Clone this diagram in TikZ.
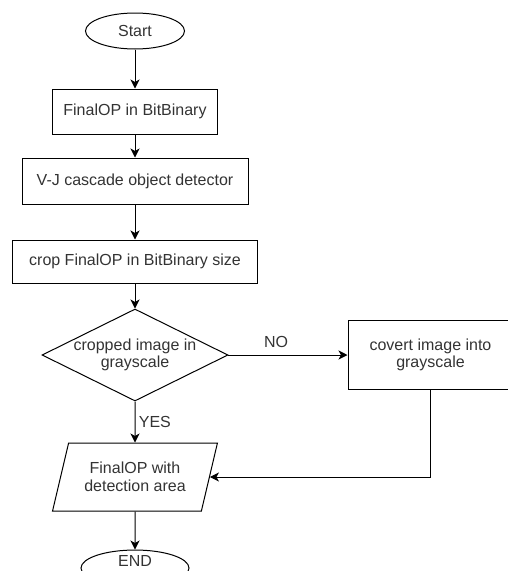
\documentclass[tikz,border=0pt]{standalone}
\usepackage{fontspec}
\setmainfont{Liberation Sans}
\usetikzlibrary{calc}
\usetikzlibrary{positioning}
\usetikzlibrary{shapes.geometric}
\usetikzlibrary{arrows.meta}
\definecolor{txtgray}{HTML}{333333}
\tikzstyle{termnode} = [draw, ellipse, minimum width=99pt, minimum height=36pt, text=txtgray]
\tikzstyle{procnode} = [draw, rectangle, minimum height=45pt, text=txtgray, align=center]
\tikzstyle{decnode} = [draw, diamond, aspect=2, minimum width=186pt, minimum height=92pt, inner sep=-3pt, text=txtgray, align=center]
\tikzstyle{ionode} = [draw, trapezium, trapezium left angle=70, trapezium right angle=110, trapezium stretches=true, minimum width=165pt, minimum height=68pt, text=txtgray, align=center]
\tikzstyle{lbl} = [text=txtgray]

\begin{document}
\begin{tikzpicture}[x=1pt, y=1pt, line width=1pt, >={Stealth[length=9pt, width=9pt, inset=2.5pt]}, font=\fontsize{16}{17.5}\selectfont]
  \useasboundingbox (0,0) rectangle (508,-571);
  \node[termnode] (start) at (135,-31) {Start};
  \node[procnode, minimum width=165pt, below=39pt of start] (bitbin) {FinalOP in BitBinary};
  \node[procnode, minimum width=226pt, minimum height=46pt, below=23pt of bitbin] (vj) {V-J cascade object detector};
  \node[procnode, minimum width=245pt, minimum height=43pt, below=35pt of vj] (crop) {crop FinalOP in BitBinary size};
  \node[decnode, below=25pt of crop] (gray) {cropped image in\\grayscale};
  \node[procnode, minimum width=165pt, minimum height=69pt, right=119pt of gray] (conv) {covert image into\\grayscale};
  \node[ionode, below=41pt of gray] (out) {FinalOP with\\detection area};
  \node[termnode, minimum width=108pt, inner sep=0pt, text height=11.5pt, text depth=14pt, below=38pt of out] (end) {END};

  \draw[->] (start) -- (bitbin);
  \draw[->] (bitbin) -- (vj);
  \draw[->] (vj) -- (crop);
  \draw[->] (crop) -- (gray);
  \draw[->] (gray) -- node[lbl, above=4pt, pos=0.4] (no) {NO} (conv);
  \draw[->] (gray) -- node[lbl, right, pos=0.5] (yes) {YES} (out);
  \draw[->] (conv.south) |- (out.east);
  \draw[->] (out) -- (end);
\end{tikzpicture}
\end{document}
